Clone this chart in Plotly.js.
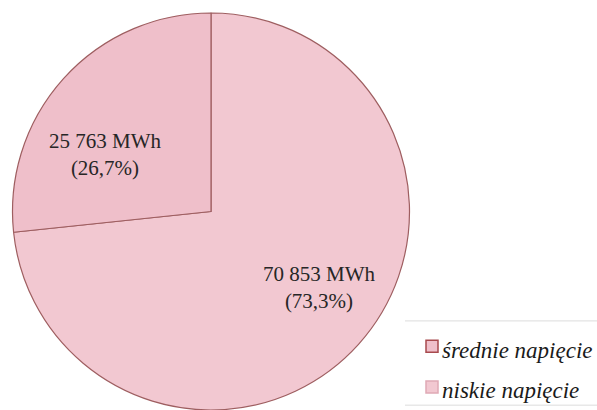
<!DOCTYPE html>
<html>
<head>
<meta charset="utf-8">
<script src="https://cdn.plot.ly/plotly-3.0.1.min.js"></script>
<style>html,body{margin:0;padding:0;background:#fff}#chart{width:597px;height:410px}</style>
</head>
<body>
<div id="chart"></div>
<script>
const categories = ['średnie napięcie', 'niskie napięcie'];
const energyMWh = [25763, 70853];
const shareLabels = ['26,7%', '73,3%'];
const sliceColors = ['#efbfca', '#f2c8d1'];
const legendBorder = ['#a84a4e', '#e0a9b5'];

function fmt(v) { return String(v).replace(/\B(?=(\d{3})+(?!\d))/g, ' '); }

const labelPos = [[105/597, 1 - 146/410], [319/597, 1 - 283/410]];

// draw order reversed so that the larger slice starts at 12 o'clock (clockwise)
const order = [1, 0];

const trace = {
  type: 'pie',
  labels: order.map(i => '<span style="font-size:23px">' + categories[i] + '</span>'),
  values: order.map(i => energyMWh[i]),
  marker: { colors: order.map(i => sliceColors[i]), line: { color: '#9e5e60', width: 1.2 } },
  sort: false,
  direction: 'clockwise',
  rotation: 0,
  textinfo: 'none',
  hoverinfo: 'none',
  domain: { x: [12/597, 410/597], y: [0, 1] }
};

const annotations = categories.map((c, i) => ({
  xref: 'paper', yref: 'paper',
  x: labelPos[i][0], y: labelPos[i][1],
  xanchor: 'center', yanchor: 'middle',
  showarrow: false,
  text: fmt(energyMWh[i]) + ' MWh<br>(' + shareLabels[i] + ')',
  font: { family: 'Liberation Serif, serif', size: 21, color: '#262626' }
}));

const layout = {
  width: 597, height: 410,
  margin: { l: 0, r: 0, t: 13, b: 0, autoexpand: false },
  paper_bgcolor: '#ffffff',
  showlegend: true,
  legend: {
    x: 412/597, y: 1 - 318/410, xanchor: 'left', yanchor: 'top',
    traceorder: 'reversed',
    font: { family: 'Liberation Serif, serif', size: 29, style: 'italic', color: '#1a1a1a' },
    bgcolor: 'rgba(0,0,0,0)', itemwidth: 30
  },
  annotations: annotations,
  shapes: [
    { type: 'line', xref: 'paper', yref: 'paper', x0: 405/597, x1: 1, y0: 1 - 318/410, y1: 1 - 318/410, line: { color: '#dcdcdc', width: 1 } },
    { type: 'line', xref: 'paper', yref: 'paper', x0: 405/597, x1: 1, y0: 1 - 405/410, y1: 1 - 405/410, line: { color: '#dcdcdc', width: 1 } }
  ]
};

Plotly.newPlot('chart', [trace], layout, { staticPlot: true, displayModeBar: false }).then(() => {
  document.querySelectorAll('.legend .traces').forEach(g => {
    const txt = g.querySelector('.legendtext');
    const lbl = txt ? txt.textContent : '';
    const idx = categories.findIndex(c => lbl.indexOf(c) >= 0);
    const p = g.querySelector('.legendpoints path');
    if (p && idx >= 0) { p.style.stroke = legendBorder[idx]; p.style.strokeWidth = '1.5px'; }
    if (txt) txt.setAttribute('x', '30');
  });
});
</script>
</body>
</html>
